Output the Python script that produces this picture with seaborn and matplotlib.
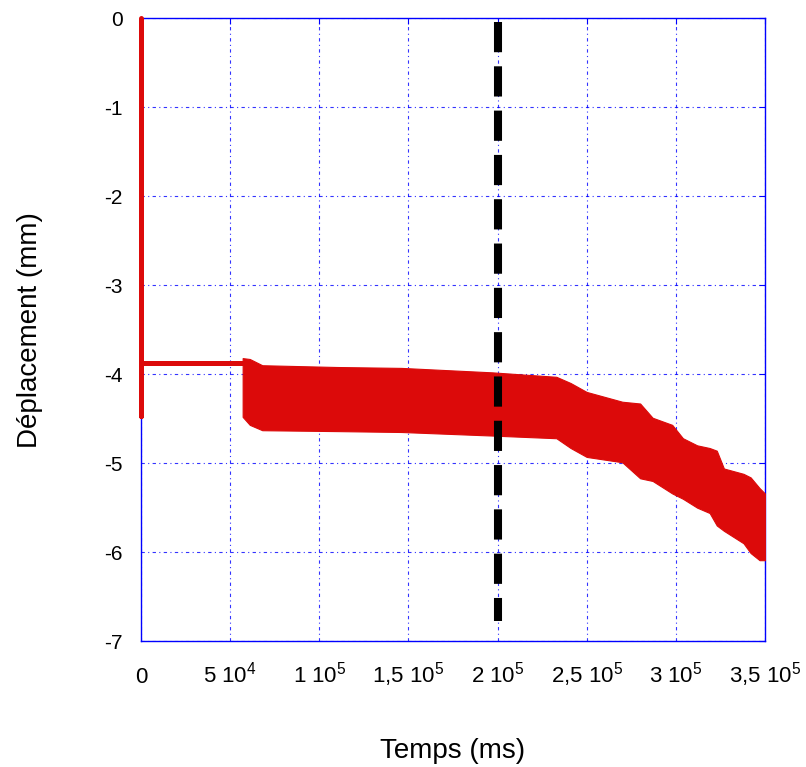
import matplotlib
matplotlib.use("Agg")
import matplotlib.pyplot as plt
import matplotlib.ticker as ticker
import pandas as pd
import seaborn as sns

# start of the record: drop at t=0 then plateau
start_t = [0, 0, 0, 58000]
start_d = [0.0, -4.47, -3.88, -3.88]

# envelope of the oscillating signal (upper / lower edge of the band)
band_t = [57000, 61000, 68000, 110000, 146000, 197000, 233000, 241000, 250000,
          270000, 280000, 287000, 298000, 304000, 308000, 312000, 319000,
          323000, 327000, 338000, 342000, 347000, 350000]
band_upper = [-3.82, -3.83, -3.90, -3.92, -3.93, -3.98, -4.03, -4.10, -4.20,
              -4.31, -4.33, -4.49, -4.57, -4.72, -4.76, -4.80, -4.83,
              -4.86, -5.06, -5.12, -5.16, -5.28, -5.34]
band_lower = [-4.48, -4.57, -4.63, -4.64, -4.65, -4.69, -4.72, -4.83, -4.93,
              -4.99, -5.17, -5.20, -5.34, -5.40, -5.45, -5.50, -5.56,
              -5.70, -5.76, -5.90, -6.01, -6.09, -6.09]

# vertical marker
marker_t = [200000, 200000]
marker_d = [-0.04, -6.77]

x_ticks = [0, 50000, 100000, 150000, 200000, 250000, 300000, 350000]
x_labels = ["0", "5 $10^4$", "1 $10^5$", "1,5 $10^5$", "2 $10^5$",
            "2,5 $10^5$", "3 $10^5$", "3,5 $10^5$"]
y_ticks = [0, -1, -2, -3, -4, -5, -6, -7]

red = "#dc0a0a"
blue = "#0000ff"

sns.set_style("white")
plt.rcParams["font.family"] = ["Liberation Sans", "DejaVu Sans"]
plt.rcParams["mathtext.fontset"] = "custom"
plt.rcParams["mathtext.rm"] = "Liberation Sans"
plt.rcParams["mathtext.default"] = "regular"
plt.rcParams["text.color"] = "black"
plt.rcParams["xtick.labelcolor"] = "black"
plt.rcParams["ytick.labelcolor"] = "black"
plt.rcParams["axes.labelcolor"] = "black"

fig = plt.figure(figsize=(8.06, 7.67), dpi=100)
ax = fig.add_axes([0.175, 0.164, 0.774, 0.8125])

df_start = pd.DataFrame({"t": start_t, "d": start_d})
sns.lineplot(data=df_start, x="t", y="d", sort=False, estimator=None,
             color=red, linewidth=3.6, ax=ax, clip_on=False, zorder=3)

ax.fill_between(band_t, band_upper, band_lower, color=red, linewidth=0.8,
                edgecolor=red, zorder=3, clip_on=False)

ax.plot(marker_t, marker_d, color="black", linewidth=5.8,
        dashes=(3.75, 1.75), dash_capstyle="butt", zorder=4)

ax.set_xlim(0, 350000)
ax.set_ylim(-7, 0)
ax.set_xticks(x_ticks)
ax.set_xticklabels(x_labels)
ax.set_yticks(y_ticks)
ax.yaxis.set_major_formatter(ticker.FormatStrFormatter("%d"))

# grid: thin blue dash-dot lines
ax.grid(True, color=blue, linestyle=(0, (3, 3, 1, 3)), linewidth=0.8, alpha=0.8)
ax.set_axisbelow(True)

for s in ax.spines.values():
    s.set_color(blue)
    s.set_linewidth(1.0)
    s.set_zorder(2.5)

ax.tick_params(axis="both", direction="in", length=4, color=blue,
               top=True, right=True)
ax.tick_params(axis="x", pad=30, labelsize=16)
ax.tick_params(axis="y", pad=13, labelsize=15)
# keep all x labels on the same baseline (superscripts make some taller)
for lab in ax.get_xticklabels():
    lab.set_verticalalignment("baseline")

ax.set_xlabel("Temps (ms)", fontsize=20, labelpad=35)
ax.set_ylabel("Déplacement (mm)", fontsize=20, labelpad=44)

fig.savefig("out.png", dpi=100)
